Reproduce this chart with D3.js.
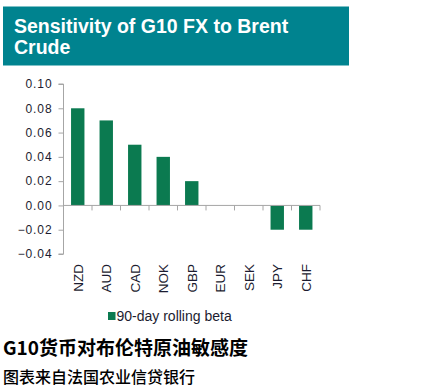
<!DOCTYPE html>
<html><head><meta charset="utf-8">
<script src="https://cdn.jsdelivr.net/npm/d3@7"></script>
<style>
body{margin:0;background:#fff;}
svg{display:block;}
</style></head>
<body>
<svg id="c" width="424" height="390"></svg>
<script>
const categories = ["NZD","AUD","CAD","NOK","GBP","EUR","SEK","JPY","CHF"];
const beta = [0.08,0.07,0.05,0.04,0.02,0,0,-0.02,-0.02];
const yTicks = [0.10,0.08,0.06,0.04,0.02,0.00,-0.02,-0.04];
const titleLines = ["Sensitivity of G10 FX to Brent","Crude"];
const legendLabel = "90-day rolling beta";
const cnTitle = "G10货币对布伦特原油敏感度";
const cnSub = "图表来自法国农业信贷银行";

const svg = d3.select("#c");
const green = "#0b7a50", teal = "#00838f", txt = "#1c1c30", axisC = "#a6a6a6";

// title box
svg.append("rect").attr("x",3).attr("y",6.5).attr("width",346).attr("height",59).attr("fill",teal);
svg.selectAll("text.t").data(titleLines).enter().append("text")
  .attr("x",14).attr("y",(d,i)=>33+i*21)
  .attr("font-family","Liberation Sans, Arial, sans-serif").attr("font-weight","bold")
  .attr("font-size",19.5).attr("fill","#fff").text(d=>d);

const x = d3.scaleBand().domain(categories).range([63.5,320]).paddingInner(0.53).paddingOuter(0.265);
const xb = d3.scaleBand().domain(categories).range([63.5,320]);
const y = d3.scaleLinear().domain([-0.04,0.10]).range([254,84]);

// y axis
const ya = svg.append("g").attr("transform","translate(63.5,0)")
  .call(d3.axisLeft(y).tickValues(yTicks).tickFormat(d3.format(".2f")).tickSize(5).tickPadding(6));
ya.select(".domain").attr("stroke",axisC).attr("d","M-5,"+y(-0.04)+"H0V"+y(0.10)+"H-5");
ya.selectAll(".tick line").attr("stroke",axisC);
ya.selectAll(".tick text").attr("font-family","Liberation Sans, Arial, sans-serif")
  .attr("font-size",12).attr("letter-spacing","0.9px").attr("fill",txt).attr("x",-11);

// bars
svg.selectAll("rect.bar").data(beta).enter().append("rect")
  .attr("x",(d,i)=>x(categories[i])).attr("width",x.bandwidth())
  .attr("y",d=>y(Math.max(0,d))).attr("height",d=>Math.abs(y(d)-y(0)))
  .attr("fill",green);

// x axis at zero
const xa = svg.append("g").attr("transform","translate(0,"+y(0)+")");
xa.append("line").attr("x1",63.5).attr("x2",320).attr("stroke",axisC);
const bounds = categories.map(c=>xb(c)).concat([320]);
xa.selectAll("line.tk").data(bounds).enter().append("line")
  .attr("x1",d=>d).attr("x2",d=>d).attr("y1",0).attr("y2",5).attr("stroke",axisC);

// x labels
svg.selectAll("text.xl").data(categories).enter().append("text")
  .attr("transform",d=>"translate("+(xb(d)+xb.bandwidth()/2+5)+",264) rotate(-90)")
  .attr("text-anchor","end")
  .attr("font-family","Liberation Sans, Arial, sans-serif").attr("font-size",13.5)
  .attr("fill",txt).text(d=>d);

// legend
svg.append("rect").attr("x",108).attr("y",312).attr("width",7.5).attr("height",8).attr("fill",green);
svg.append("text").attr("x",116.5).attr("y",320.5)
  .attr("font-family","Liberation Sans, Arial, sans-serif").attr("font-size",14)
  .attr("fill",txt).text(legendLabel);

// Chinese captions
svg.append("text").attr("x",3).attr("y",355)
  .attr("font-family","Noto Sans CJK SC").attr("font-weight","bold").attr("font-size",19)
  .attr("fill","#000").text(cnTitle);
svg.append("text").attr("x",3).attr("y",383)
  .attr("font-family","Noto Sans CJK SC").attr("font-weight","500").attr("font-size",16)
  .attr("fill","#000").text(cnSub);
</script>
</body></html>
